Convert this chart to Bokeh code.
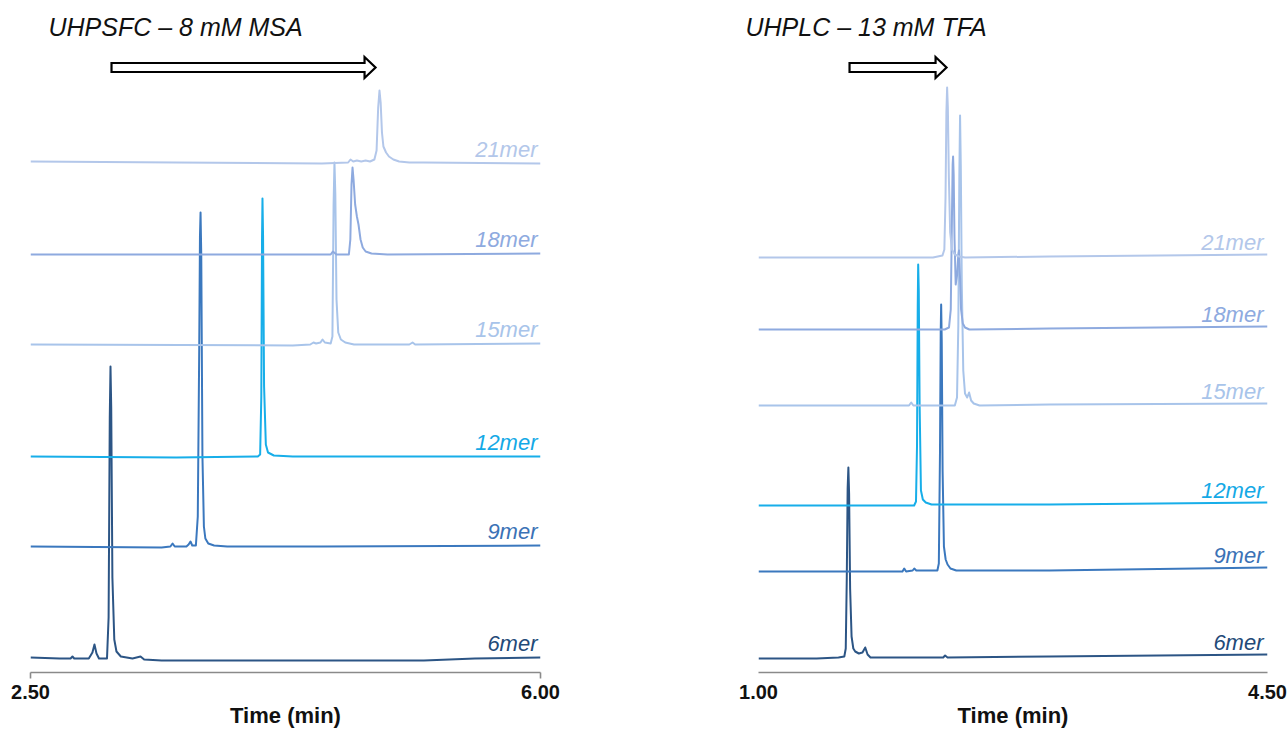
from bokeh.plotting import figure
from bokeh.layouts import row
from bokeh.models import Range1d, FixedTicker, Label, NumeralTickFormatter
from bokeh.embed import file_html
from bokeh.resources import INLINE

# ---------------- data (time in min, signal in arbitrary units) ----------------
OLIGOS = ["6mer", "9mer", "12mer", "15mer", "18mer", "21mer"]
COLORS = ["#2c5585", "#3b78be", "#17aee9", "#a8c4ea", "#8eaadf", "#b3c7ea"]
LABEL_COLORS = ["#234a78", "#3b72b6", "#14a9e6", "#a8c4ea", "#8eaadf", "#b3c7ea"]

# UHPSFC - 8 mM MSA
SFC_TITLE = "UHPSFC \u2013 8 mM MSA"
SFC_XLIM = [2.5, 6.0]
SFC_OFFSETS = [15, 126, 216, 328, 418, 510]

SFC_6_T = [2.50, 2.70, 2.775, 2.788, 2.80, 2.90, 2.925, 2.939, 2.953, 2.97, 3.025, 3.036, 3.044, 3.049,
           3.054, 3.062, 3.075, 3.09, 3.12, 3.20, 3.255, 3.28, 3.40, 3.80, 4.50, 5.20, 5.55, 6.00]
SFC_6_S = [0, -1, -1, 1, -1, -1, 5, 13, 4, -1, -1, 40, 240, 291,
           250, 80, 18, 6, 1, -1, 1, -2, -3, -3, -3, -3, -1, 0]

SFC_9_T = [2.50, 3.40, 3.46, 3.475, 3.49, 3.57, 3.585, 3.598, 3.61, 3.635, 3.648, 3.658, 3.663, 3.667,
           3.672, 3.68, 3.69, 3.70, 3.72, 3.76, 3.85, 4.50, 6.00]
SFC_9_S = [0, -1, 0, 3, 0, 0, 2, 5, 1, 1, 30, 200, 310, 334,
           290, 90, 20, 8, 3, 1, 0, 0, 1]

SFC_12_T = [2.50, 3.50, 4.06, 4.076, 4.084, 4.089, 4.092, 4.096, 4.103, 4.115, 4.13, 4.17, 4.30, 6.00]
SFC_12_S = [0, -1, 0, 2, 60, 220, 258, 220, 70, 12, 4, 1, 0, 0]

SFC_15_T = [2.50, 4.30, 4.42, 4.442, 4.46, 4.49, 4.504, 4.52, 4.56, 4.572, 4.580, 4.586, 4.592, 4.600,
            4.612, 4.63, 4.66, 4.72, 5.10, 5.122, 5.14, 6.00]
SFC_15_S = [0, -1, 0, 2, 1, 2, 5, 2, 1, 8, 140, 182, 150, 45,
            12, 5, 2, 0, 0, 2, 0, 1]

SFC_18_T = [2.50, 4.30, 4.56, 4.575, 4.60, 4.685, 4.695, 4.703, 4.710, 4.717, 4.728, 4.740, 4.751,
            4.765, 4.78, 4.80, 4.84, 4.95, 6.00]
SFC_18_S = [0, 0, 0, 3, 0, 0, 15, 70, 87, 75, 50, 38, 30,
            15, 7, 3, 1, 0, 1]

SFC_21_T = [2.50, 3.50, 4.50, 4.68, 4.696, 4.715, 4.74, 4.77, 4.80, 4.83, 4.86, 4.875, 4.886, 4.895,
            4.903, 4.912, 4.922, 4.94, 4.96, 4.99, 5.03, 5.10, 5.20, 6.00]
SFC_21_S = [1, 0, -1, 0, 3, 1, 2, 1, 2, 1, 3, 12, 55, 72,
            60, 30, 16, 10, 6, 3, 1, 0, 0, -1]

# UHPLC - 13 mM TFA
LC_TITLE = "UHPLC \u2013 13 mM TFA"
LC_XLIM = [1.0, 4.5]
LC_OFFSETS = [14, 101, 167, 267, 343, 415]

LC_6_T = [1.00, 1.40, 1.55, 1.59, 1.60, 1.607, 1.613, 1.618, 1.623, 1.630, 1.640, 1.652, 1.665, 1.69,
          1.715, 1.734, 1.75, 1.77, 2.00, 2.27, 2.283, 2.30, 3.00, 4.50]
LC_6_S = [0, 0, 1, 2, 10, 80, 170, 191, 165, 70, 22, 10, 7, 5,
          6, 11, 4, 1, 1, 1, 3, 1, 2, 4]

LC_9_T = [1.00, 1.80, 1.99, 2.002, 2.015, 2.06, 2.071, 2.085, 2.23, 2.240, 2.248, 2.253, 2.256, 2.260,
          2.266, 2.275, 2.287, 2.30, 2.32, 2.36, 3.00, 4.50]
LC_9_S = [0, 0, 0, 3, 0, 1, 3, 1, 1, 8, 120, 240, 267, 230,
          100, 25, 12, 7, 3, 1, 1, 4]

LC_12_T = [1.00, 1.80, 2.07, 2.083, 2.090, 2.095, 2.098, 2.102, 2.108, 2.117, 2.13, 2.15, 2.19, 3.00, 4.50]
LC_12_S = [0, 0, 0, 4, 60, 200, 241, 215, 100, 15, 6, 3, 1, 1, 3]

LC_15_T = [1.00, 1.80, 2.035, 2.050, 2.065, 2.35, 2.365, 2.374, 2.381, 2.386, 2.391, 2.398, 2.408,
           2.42, 2.435, 2.448, 2.462, 2.48, 2.52, 3.00, 4.50]
LC_15_S = [0, 0, 0, 3, 0, 0, 8, 80, 230, 290, 240, 120, 35,
           12, 8, 13, 5, 2, 0, 1, 2]

LC_18_T = [1.00, 1.80, 2.28, 2.31, 2.322, 2.330, 2.335, 2.338, 2.342, 2.348, 2.356, 2.366, 2.374,
           2.379, 2.385, 2.393, 2.405, 2.42, 2.45, 3.00, 4.50]
LC_18_S = [0, 0, 0, 2, 20, 110, 165, 173, 155, 90, 45, 55, 75,
           79, 55, 20, 6, 2, 0, 1, 3]

LC_21_T = [1.00, 1.80, 2.20, 2.265, 2.278, 2.286, 2.292, 2.297, 2.302, 2.309, 2.318, 2.33, 2.35,
           2.38, 2.42, 3.00, 4.50]
LC_21_S = [0, 0, 0, 2, 8, 60, 145, 170, 150, 80, 25, 8, 3,
           1, 0, 1, 3]

SFC_TRACES = [(SFC_6_T, SFC_6_S), (SFC_9_T, SFC_9_S), (SFC_12_T, SFC_12_S),
              (SFC_15_T, SFC_15_S), (SFC_18_T, SFC_18_S), (SFC_21_T, SFC_21_S)]
LC_TRACES = [(LC_6_T, LC_6_S), (LC_9_T, LC_9_S), (LC_12_T, LC_12_S),
             (LC_15_T, LC_15_S), (LC_18_T, LC_18_S), (LC_21_T, LC_21_S)]

# elution-direction arrows (start, tip) in minutes
SFC_ARROW = [3.056, 4.868]
LC_ARROW = [1.626, 2.293]

FONT = "Liberation Sans"
Y_MAX = 624.0


def make_panel(title, xlim, offsets, traces, arrow, title_dx, border_l, border_r,
               total_w, tick_out, label_dx, label_dy):
    p = figure(width=total_w, height=730, output_backend="svg", toolbar_location=None,
               x_range=Range1d(xlim[0], xlim[1]), y_range=Range1d(0, Y_MAX),
               min_border_left=border_l, min_border_right=border_r,
               min_border_top=48, min_border_bottom=58)
    p.outline_line_color = None
    p.xgrid.visible = False
    p.ygrid.visible = False
    p.yaxis.visible = False
    p.background_fill_color = "white"
    p.border_fill_color = "white"

    # title (above the frame)
    p.title.text = title
    p.title.align = "left"
    p.title.offset = title_dx
    p.title.text_font = FONT
    p.title.text_font_style = "italic"
    p.title.text_font_size = "25px"
    p.title.text_color = "#111111"
    p.title.standoff = 16

    ax = p.xaxis[0]
    ax.ticker = FixedTicker(ticks=list(xlim))
    ax.formatter = NumeralTickFormatter(format="0.00")
    ax.axis_line_color = "#8a8a8a"
    ax.axis_line_width = 1.6
    ax.major_tick_line_color = "#8a8a8a"
    ax.major_tick_line_width = 1.6
    ax.major_tick_in = 0
    ax.major_tick_out = tick_out
    ax.minor_tick_out = 0
    ax.minor_tick_in = 0
    ax.major_label_standoff = 12 - tick_out
    ax.major_label_text_font = FONT
    ax.major_label_text_font_style = "bold"
    ax.major_label_text_font_size = "20px"
    ax.major_label_text_color = "#111111"
    ax.axis_label = "Time (min)"
    ax.axis_label_standoff = 1
    ax.axis_label_text_font = FONT
    ax.axis_label_text_font_style = "bold"
    ax.axis_label_text_font_size = "22px"
    ax.axis_label_text_color = "#111111"

    # traces
    for (t, s), off, col, lcol, name in zip(traces, offsets, COLORS, LABEL_COLORS, OLIGOS):
        ys = [off + v for v in s]
        p.line(t, ys, line_color=col, line_width=2.0, line_join="round")
        p.add_layout(Label(x=xlim[1], y=off + s[-1], text=name, x_offset=label_dx, y_offset=label_dy,
                           text_align="right", text_baseline="alphabetic",
                           text_font=FONT, text_font_style="italic", text_font_size="22px",
                           text_color=lcol))

    # arrow (hollow block arrow)
    px_per_min = 510.0 / (xlim[1] - xlim[0])
    head_len = 11.0 / px_per_min
    yc = 605.0
    bh, hh = 4.5, 10.5
    xb = arrow[1] - head_len
    ax_x = [arrow[0], xb, xb, arrow[1], xb, xb, arrow[0]]
    ax_y = [yc + bh, yc + bh, yc + hh, yc, yc - hh, yc - bh, yc - bh]
    p.patch(ax_x, ax_y, fill_color="white", line_color="black", line_width=2.2, line_join="miter")
    return p


p1 = make_panel(SFC_TITLE, SFC_XLIM, SFC_OFFSETS, SFC_TRACES, SFC_ARROW,
                title_dx=18, border_l=30, border_r=108, total_w=648,
                tick_out=6, label_dx=-3, label_dy=14)
p2 = make_panel(LC_TITLE, LC_XLIM, LC_OFFSETS, LC_TRACES, LC_ARROW,
                title_dx=-13, border_l=110, border_r=20, total_w=639,
                tick_out=0, label_dx=-4, label_dy=12)

layout = row(p1, p2)
open("out.html", "w").write(file_html(layout, INLINE))
